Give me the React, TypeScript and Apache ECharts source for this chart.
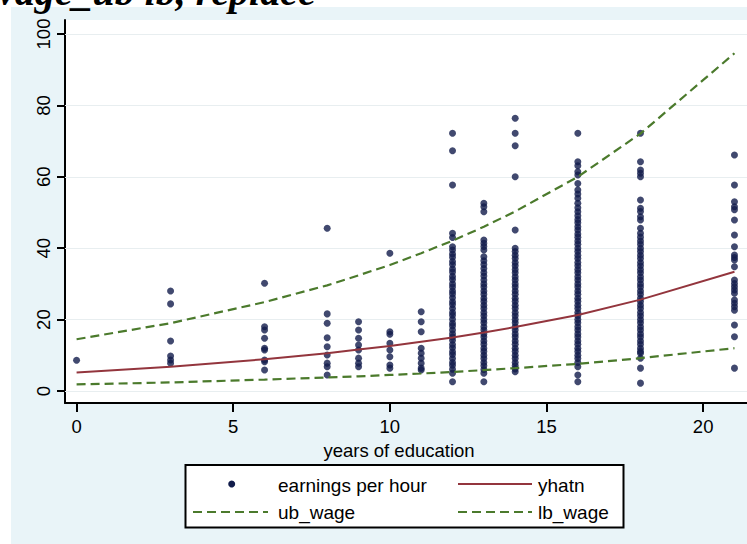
import React, { useEffect, useRef } from "react";
import * as echarts from "echarts";

// ---- data ----
const educLevels = [0, 3, 6, 8, 9, 10, 11, 12, 13, 14, 16, 18, 21];
const yhatn = [5.2, 6.8, 8.9, 10.6, 11.6, 12.6, 13.8, 15.0, 16.4, 17.9, 21.3, 25.6, 33.4];
const ubWage = [14.5, 19.0, 24.9, 29.6, 32.4, 35.3, 38.6, 42.1, 46.0, 50.3, 60.0, 72.1, 94.6];
const lbWage = [1.85, 2.4, 3.2, 3.8, 4.1, 4.5, 4.9, 5.35, 5.85, 6.4, 7.6, 9.2, 12.0];

const wage0 = [8.6];
const wage3 = [28.0, 24.4, 14.0, 9.8, 8.7, 7.8];
const wage6 = [30.2, 18.0, 17.1, 14.8, 12.0, 11.5, 8.7, 8.2, 5.9];
const wage8 = [45.6, 21.6, 19.0, 14.9, 12.4, 10.1, 7.8, 6.8, 4.5];
const wage9 = [19.4, 17.1, 14.8, 12.9, 11.5, 9.2, 7.8, 6.8];
const wage10 = [38.6, 16.6, 15.9, 13.4, 11.5, 9.6, 7.3, 6.4];
const wage11 = [22.2, 19.4, 16.6, 12.0, 10.6, 9.2, 7.8, 6.4, 5.9];
const wage12 = [72.2, 67.3, 57.7, 44.2, 43.0, 40.4, 39.5, 38.4, 37.5, 36.3, 35.4, 34.2, 33.3, 32.1, 31.2, 30.0, 29.1, 28.0, 27.2, 26.1, 25.0, 24.2, 23.1, 22.0, 21.2, 20.1, 19.0, 18.2, 17.1, 16.0, 15.1, 14.2, 13.0, 12.1, 11.0, 10.2, 9.1, 8.0, 7.2, 6.1, 5.0, 2.6];
const wage13 = [52.6, 51.6, 50.2, 42.3, 41.4, 40.5, 39.5, 37.6, 36.5, 35.4, 34.3, 33.2, 32.2, 31.1, 30.0, 29.1, 28.0, 27.1, 26.0, 25.1, 24.0, 23.1, 22.0, 21.1, 20.0, 19.1, 18.0, 17.1, 16.0, 15.1, 14.0, 13.1, 12.0, 11.1, 10.0, 9.1, 8.0, 7.1, 6.0, 5.0, 2.6];
const wage14 = [76.4, 72.2, 68.7, 60.0, 45.1, 40.0, 39.1, 38.0, 37.1, 36.0, 35.1, 34.0, 33.1, 32.0, 31.1, 30.0, 29.1, 28.0, 27.1, 26.0, 25.1, 24.0, 23.1, 22.0, 21.1, 20.0, 19.1, 18.0, 17.1, 16.0, 15.1, 14.0, 13.1, 12.0, 11.1, 10.0, 9.1, 8.0, 7.1, 6.2, 5.4];
const wage16 = [72.2, 64.2, 63.1, 61.4, 60.5, 58.1, 56.3, 55.2, 54.0, 52.6, 51.3, 50.2, 49.1, 48.0, 47.1, 46.0, 45.1, 44.0, 43.1, 42.0, 41.1, 40.0, 39.1, 38.0, 37.1, 36.0, 35.1, 34.0, 33.1, 32.0, 31.1, 30.0, 29.1, 28.0, 27.1, 26.0, 25.1, 24.0, 23.1, 22.0, 21.1, 20.0, 19.1, 18.0, 17.1, 16.0, 15.1, 14.0, 13.1, 12.0, 11.1, 10.0, 9.1, 8.0, 6.8, 4.5, 2.6];
const wage18 = [72.2, 64.2, 61.9, 61.0, 60.0, 53.5, 51.2, 50.3, 48.8, 47.9, 45.6, 44.2, 43.1, 42.0, 41.1, 40.0, 39.1, 38.0, 37.1, 36.0, 35.1, 34.0, 33.1, 32.0, 31.1, 30.0, 29.1, 28.0, 27.1, 26.0, 25.1, 24.0, 23.1, 22.0, 21.1, 20.0, 19.1, 18.0, 17.1, 16.0, 15.1, 14.0, 13.1, 12.0, 11.1, 10.6, 9.2, 6.4, 2.2];
const wage21 = [66.1, 57.7, 53.0, 51.6, 50.8, 47.9, 43.7, 40.4, 38.1, 37.4, 36.7, 34.8, 31.1, 30.1, 29.2, 28.3, 27.4, 25.5, 24.6, 23.6, 22.6, 18.5, 15.2, 6.4];

const wagesByEduc = [wage0, wage3, wage6, wage8, wage9, wage10, wage11, wage12, wage13, wage14, wage16, wage18, wage21];

const xTicks = [0, 5, 10, 15, 20];
const yTicks = [0, 20, 40, 60, 80, 100];

const FONT = "'Liberation Sans', Arial, Helvetica, sans-serif";
const NAVY = "#111c4b";
const MAROON = "#93353d";
const GREEN = "#4b7a2c";
const BLUE_BG = "#e9f4f8";

export default function App() {
  const ref = useRef<HTMLDivElement | null>(null);

  useEffect(() => {
    if (!ref.current) return;
    const chart = echarts.init(ref.current, undefined, { renderer: "svg" });

    const scatterData: number[][] = [];
    educLevels.forEach((e, i) => {
      wagesByEduc[i].forEach((w) => scatterData.push([e, w]));
    });

    const option: any = {
      animation: false,
      backgroundColor: "transparent",
      grid: {
        left: 65,
        top: 20,
        right: 0,
        bottom: 141,
        show: true,
        backgroundColor: "#ffffff",
        borderWidth: 0,
      },
      xAxis: {
        type: "value",
        min: -0.37,
        max: 21.4,
        axisLine: { show: true, onZero: false, lineStyle: { color: "#000", width: 2 } },
        axisTick: { show: true, length: 9, customValues: xTicks, lineStyle: { color: "#000", width: 2 } },
        axisLabel: { customValues: xTicks, margin: 14, fontSize: 18.5, color: "#000", fontFamily: FONT },
        splitLine: { show: false },
        name: "years of education",
        nameLocation: "middle",
        nameGap: 33,
        nameTextStyle: { fontSize: 18.5, color: "#000", fontFamily: FONT, padding: [0, 14, 0, 0] },
      },
      yAxis: {
        type: "value",
        min: -3.36,
        max: 103.92,
        axisLine: { show: true, onZero: false, lineStyle: { color: "#000", width: 2 } },
        axisTick: { show: true, length: 8, customValues: yTicks, lineStyle: { color: "#000", width: 2 } },
        axisLabel: { customValues: yTicks, rotate: 90, margin: 12, fontSize: 18.5, color: "#000", fontFamily: FONT },
        splitLine: { show: false },
      },
      series: [
        {
          name: "earnings per hour",
          type: "scatter",
          data: scatterData,
          symbol: "circle",
          symbolSize: 7,
          itemStyle: { color: NAVY },
          z: 3,
          markLine: {
            silent: true,
            symbol: "none",
            label: { show: false },
            lineStyle: { color: "#e8eef0", width: 1, type: "solid" },
            data: yTicks.map((v) => ({ yAxis: v })),
            z: 1,
          },
        },
        {
          name: "yhatn",
          type: "line",
          data: educLevels.map((e, i) => [e, yhatn[i]]),
          symbol: "none",
          lineStyle: { color: MAROON, width: 2 },
          z: 4,
        },
        {
          name: "ub_wage",
          type: "line",
          data: educLevels.map((e, i) => [e, ubWage[i]]),
          symbol: "none",
          lineStyle: { color: GREEN, width: 2.2, type: [9, 5] },
          z: 4,
        },
        {
          name: "lb_wage",
          type: "line",
          data: educLevels.map((e, i) => [e, lbWage[i]]),
          symbol: "none",
          lineStyle: { color: GREEN, width: 2.2, type: [9, 5] },
          z: 4,
        },
      ],
      graphic: [
        {
          type: "text",
          left: -12,
          top: -29,
          style: {
            text: "wage_ub lb, replace",
            font: "italic bold 40px 'Liberation Serif', 'Times New Roman', serif",
            fill: "#000",
          },
          z: 10,
        },
        {
          type: "group",
          children: [
            {
              type: "rect",
              shape: { x: 185.5, y: 465, width: 438, height: 62.5 },
              style: { fill: "#fff", stroke: "#000", lineWidth: 2 },
            },
            { type: "circle", shape: { cx: 231.7, cy: 484, r: 3.5 }, style: { fill: NAVY } },
            {
              type: "text",
              x: 278,
              y: 485,
              style: { text: "earnings per hour", font: `19px ${FONT}`, fill: "#000", verticalAlign: "middle" },
            },
            { type: "line", shape: { x1: 458, y1: 484, x2: 532, y2: 484 }, style: { stroke: MAROON, lineWidth: 2 } },
            {
              type: "text",
              x: 538,
              y: 485,
              style: { text: "yhatn", font: `19px ${FONT}`, fill: "#000", verticalAlign: "middle" },
            },
            {
              type: "line",
              shape: { x1: 193, y1: 512, x2: 268, y2: 512 },
              style: { stroke: GREEN, lineWidth: 2, lineDash: [9, 5] },
            },
            {
              type: "text",
              x: 278,
              y: 512,
              style: { text: "ub_wage", font: `19px ${FONT}`, fill: "#000", verticalAlign: "middle" },
            },
            {
              type: "line",
              shape: { x1: 458, y1: 512, x2: 532, y2: 512 },
              style: { stroke: GREEN, lineWidth: 2, lineDash: [9, 5] },
            },
            {
              type: "text",
              x: 538,
              y: 512,
              style: { text: "lb_wage", font: `19px ${FONT}`, fill: "#000", verticalAlign: "middle" },
            },
          ],
        },
      ],
    };

    chart.setOption(option);
    return () => chart.dispose();
  }, []);

  return (
    <div style={{ position: "fixed", left: 0, top: 0, width: 747, height: 544, background: "#fff", overflow: "hidden" }}>
      <div style={{ position: "absolute", left: 11, top: 7, width: 736, height: 537, background: BLUE_BG }} />
      <div ref={ref} style={{ position: "absolute", left: 0, top: 0, width: 747, height: 544 }} />
    </div>
  );
}
